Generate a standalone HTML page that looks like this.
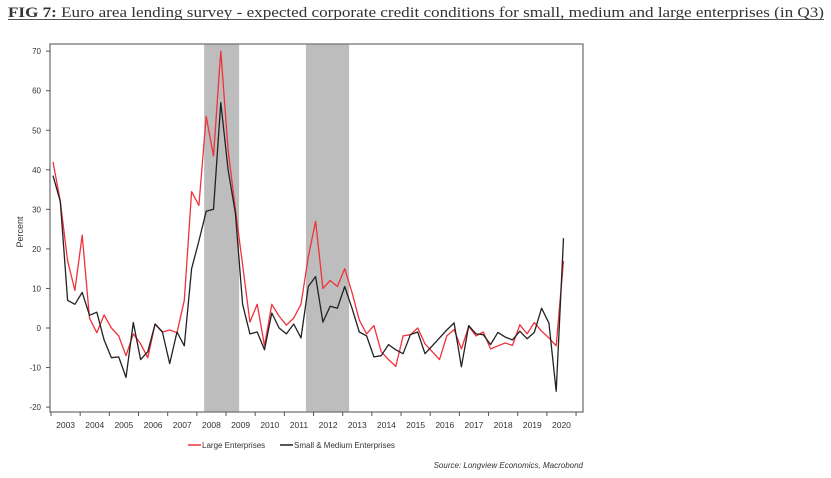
<!DOCTYPE html>
<html><head><meta charset="utf-8"><style>
body{margin:0;background:#fff;width:831px;height:478px;overflow:hidden;position:relative;font-family:"Liberation Sans",sans-serif}
</style></head><body>
<svg id="c" width="831" height="478" style="position:absolute;left:0;top:0">
<text x="8" y="17" font-family="Liberation Serif, serif" font-size="14.5" fill="#333" textLength="816" lengthAdjust="spacingAndGlyphs"><tspan font-weight="bold">FIG 7:</tspan> Euro area lending survey - expected corporate credit conditions for small, medium and large enterprises (in Q3)</text>
<line x1="8" x2="824" y1="19.5" y2="19.5" stroke="#555" stroke-width="0.9"/>
</svg>
<script>
const years=[2003,2004,2005,2006,2007,2008,2009,2010,2011,2012,2013,2014,2015,2016,2017,2018,2019,2020];
const yTicks=[70,60,50,40,30,20,10,0,-10,-20];
const shaded=[[2008.25,2009.45],[2011.74,2013.22]];
const large=[42,32,17,9.5,23.5,2.5,-1.2,3.3,0,-2,-7,-1.5,-4,-7.5,1,-1,-0.5,-1.2,7,34.5,31,53.5,43.5,70,45,30,16,1.5,6,-4.5,6,3,0.7,2.5,6,18,27,10,12,10.5,15,9,2,-1.5,0.6,-6,-8,-9.7,-2,-1.7,0,-4,-6,-8,-2,-0.4,-5.3,0.4,-2,-1,-5.3,-4.5,-3.8,-4.4,0.8,-1.5,1.4,-0.8,-2.5,-4.5,17];
const sme=[38.5,32,7,6,9,3.2,4,-3,-7.5,-7.3,-12.5,1.4,-8,-6,1,-1,-9,-1,-4.5,15,22,29.5,30,57,40,29,6,-1.5,-1,-5.5,3.8,0,-1.5,1,-2.5,10.5,13,1.5,5.5,5,10.5,5,-1,-2,-7.3,-7,-4.2,-5.5,-6.5,-1.7,-1,-6.5,-4.5,-2.5,-0.5,1.3,-9.8,0.6,-1.5,-1.7,-4.2,-1.1,-2.3,-3,-0.8,-2.7,-1.1,5,1.3,-16,22.7];
const NS="http://www.w3.org/2000/svg";
const svg=document.getElementById('c');
const X=t=>51+(t-2003)*29.17;
const Y=v=>328-v*3.955;
const qx=i=>X(2003.07+i*0.25);
function mk(tag,attrs,parent){const e=document.createElementNS(NS,tag);for(const k in attrs)e.setAttribute(k,attrs[k]);(parent||svg).appendChild(e);return e;}
shaded.forEach(s=>{const r=mk('rect',{x:X(s[0]),y:44,width:X(s[1])-X(s[0]),height:368,fill:'#bdbdbd'});

});
const fr=mk('rect',{x:50,y:44,width:533,height:368,fill:'none',stroke:'#777','stroke-width':1.3});


yTicks.forEach(v=>{mk('line',{x1:46,x2:50,y1:Y(v),y2:Y(v),stroke:'#555'});
const t=mk('text',{x:41,y:Y(v)+3,'text-anchor':'end','font-size':8,fill:'#333'});t.textContent=v;

});
years.concat([2021]).forEach(y=>{mk('line',{x1:X(y),x2:X(y),y1:412,y2:416,stroke:'#555'});});
years.forEach(y=>{const t=mk('text',{x:X(y+0.5),y:428,'text-anchor':'middle','font-size':8.5,fill:'#333'});t.textContent=y;

});
const yt=mk('text',{x:23,y:232,'text-anchor':'middle','font-size':9,fill:'#333',transform:'rotate(-90 23 232)'});yt.textContent='Percent';


function line(d,col,name){const p=mk('polyline',{points:d.map((v,i)=>qx(i).toFixed(1)+','+Y(v).toFixed(1)).join(' '),fill:'none',stroke:col,'stroke-width':1.3,'stroke-linejoin':'round'});

}
line(large,'#f0323c','large-enterprises-line');
line(sme,'#222','sme-line');
mk('line',{x1:188,x2:201,y1:445,y2:445,stroke:'#f0323c','stroke-width':1.5});
const l1=mk('text',{x:202,y:448,'font-size':8,fill:'#333'});l1.textContent='Large Enterprises';


mk('line',{x1:280,x2:293,y1:445,y2:445,stroke:'#222','stroke-width':1.5});
const l2=mk('text',{x:294,y:448,'font-size':8,fill:'#333'});l2.textContent='Small & Medium Enterprises';


const src=mk('text',{x:583,y:468,'text-anchor':'end','font-size':8,'font-style':'italic',fill:'#333'});src.textContent='Source: Longview Economics, Macrobond';


</script>
</body></html>
